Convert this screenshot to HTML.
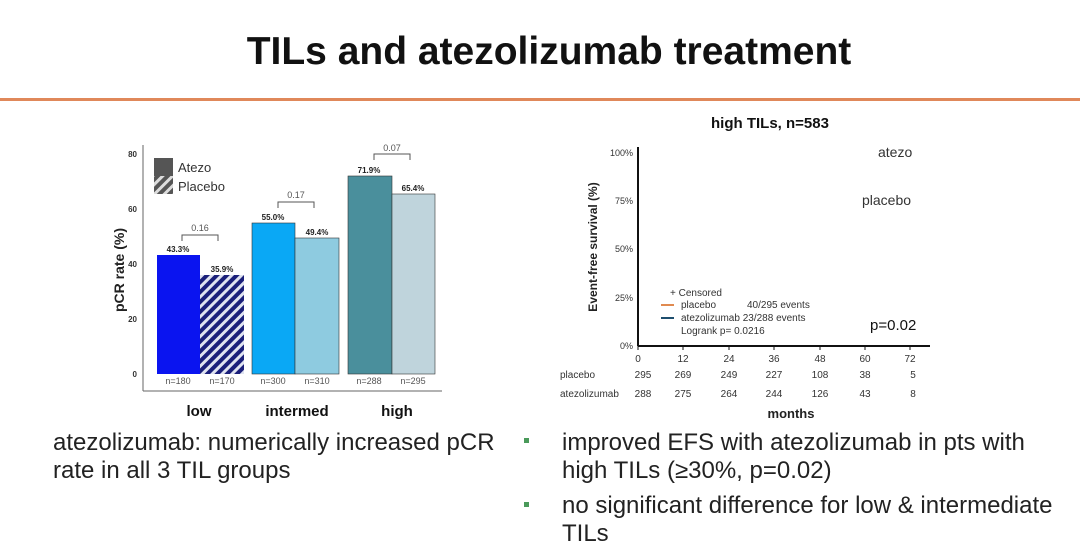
<!DOCTYPE html>
<html><head><meta charset="utf-8"><style>
body{margin:0;width:1080px;height:548px;background:#fff;font-family:"Liberation Sans",sans-serif;position:relative;overflow:hidden}
.a{position:absolute;white-space:nowrap}
</style></head><body>
<div class="a" style="left:0;top:30px;width:1098px;text-align:center;font-size:39px;font-weight:bold;color:#111">TILs and atezolizumab treatment</div>
<div class="a" style="left:0;top:98px;width:1080px;height:3px;background:#e0885a"></div>
<svg class="a" style="left:0;top:0" width="1080" height="548" font-family="Liberation Sans, sans-serif">
<defs><pattern id="h" width="7" height="7" patternUnits="userSpaceOnUse" patternTransform="rotate(45)"><rect width="7" height="7" fill="#1a1f7a"/><rect width="3" height="7" fill="#dfe3f0"/></pattern>
<pattern id="g" width="7" height="7" patternUnits="userSpaceOnUse" patternTransform="rotate(45)"><rect width="7" height="7" fill="#555"/><rect width="3" height="7" fill="#ddd"/></pattern></defs>
<line x1="143" y1="145" x2="143" y2="391" stroke="#666"/><line x1="143" y1="391" x2="442" y2="391" stroke="#666"/>
<g font-size="8" fill="#333" font-weight="bold" text-anchor="end"><text x="137" y="157">80</text><text x="137" y="212">60</text><text x="137" y="267">40</text><text x="137" y="322">20</text><text x="137" y="377">0</text></g>
<text transform="translate(124,270) rotate(-90)" font-size="14" font-weight="bold" text-anchor="middle" fill="#222">pCR rate (%)</text>
<rect x="154" y="158" width="19" height="18" fill="#555"/><rect x="154" y="176" width="19" height="18" fill="url(#g)"/>
<text x="178" y="172" font-size="13" fill="#333">Atezo</text><text x="178" y="191" font-size="13" fill="#333">Placebo</text>
<rect x="157" y="255" width="43" height="119" fill="#0a14f0"/><rect x="200" y="275" width="44" height="99" fill="url(#h)"/>
<rect x="252" y="223" width="43" height="151" fill="#0aa8f5" stroke="#333" stroke-width=".6"/><rect x="295" y="238" width="44" height="136" fill="#8ecbe0" stroke="#333" stroke-width=".6"/>
<rect x="348" y="176" width="44" height="198" fill="#4a8f9c" stroke="#333" stroke-width=".6"/><rect x="392" y="194" width="43" height="180" fill="#bfd4dc" stroke="#333" stroke-width=".6"/>
<g font-size="8" font-weight="bold" fill="#222" text-anchor="middle"><text x="178" y="252">43.3%</text><text x="222" y="272">35.9%</text><text x="273" y="220">55.0%</text><text x="317" y="235">49.4%</text><text x="369" y="173">71.9%</text><text x="413" y="191">65.4%</text></g>
<g fill="none" stroke="#555"><path d="M182 241V235H218V241"/><path d="M278 208V202H314V208"/><path d="M374 160V154H410V160"/></g>
<g font-size="9" fill="#555" text-anchor="middle"><text x="200" y="231">0.16</text><text x="296" y="198">0.17</text><text x="392" y="151">0.07</text>
<text x="178" y="384">n=180</text><text x="222" y="384">n=170</text><text x="273" y="384">n=300</text><text x="317" y="384">n=310</text><text x="369" y="384">n=288</text><text x="413" y="384">n=295</text></g>
<g font-size="15" font-weight="bold" fill="#111" text-anchor="middle"><text x="199" y="416">low</text><text x="297" y="416">intermed</text><text x="397" y="416">high</text></g>
<text x="770" y="128" font-size="15" font-weight="bold" text-anchor="middle" fill="#111">high TILs, n=583</text>
<line x1="638" y1="147" x2="638" y2="346" stroke="#111" stroke-width="2"/><line x1="638" y1="346" x2="930" y2="346" stroke="#111" stroke-width="2"/>
<g font-size="9" fill="#333" text-anchor="end"><text x="633" y="156">100%</text><text x="633" y="204">75%</text><text x="633" y="252">50%</text><text x="633" y="301">25%</text><text x="633" y="349">0%</text></g>
<g stroke="#111"><path d="M638 346v4M683 346v4M729 346v4M774 346v4M820 346v4M865 346v4M910 346v4"/></g>
<text transform="translate(597,247) rotate(-90)" font-size="12" font-weight="bold" text-anchor="middle" fill="#222">Event-free survival (%)</text>
<text x="878" y="157" font-size="14" fill="#333">atezo</text><text x="862" y="205" font-size="14" fill="#333">placebo</text>
<text x="870" y="330" font-size="15" fill="#111">p=0.02</text>
<g font-size="10" fill="#333"><text x="670" y="296">+ Censored</text><text x="681" y="308">placebo</text><text x="747" y="308">40/295 events</text><text x="681" y="321">atezolizumab  23/288 events</text><text x="681" y="334">Logrank p= 0.0216</text></g>
<line x1="661" y1="305" x2="674" y2="305" stroke="#e08a50" stroke-width="2"/><line x1="661" y1="318" x2="674" y2="318" stroke="#1e4e6e" stroke-width="2"/>
<g font-size="10" fill="#333" text-anchor="middle">
<text x="638" y="362">0</text><text x="683" y="362">12</text><text x="729" y="362">24</text><text x="774" y="362">36</text><text x="820" y="362">48</text><text x="865" y="362">60</text><text x="910" y="362">72</text>
<text x="643" y="378">295</text><text x="683" y="378">269</text><text x="729" y="378">249</text><text x="774" y="378">227</text><text x="820" y="378">108</text><text x="865" y="378">38</text><text x="913" y="378">5</text>
<text x="643" y="397">288</text><text x="683" y="397">275</text><text x="729" y="397">264</text><text x="774" y="397">244</text><text x="820" y="397">126</text><text x="865" y="397">43</text><text x="913" y="397">8</text></g>
<text x="560" y="378" font-size="10" fill="#333">placebo</text><text x="560" y="397" font-size="10" fill="#333">atezolizumab</text>
<text x="791" y="418" font-size="13" font-weight="bold" text-anchor="middle" fill="#222">months</text>
<rect x="524" y="438" width="5" height="5" fill="#4a9a5a"/><rect x="524" y="502" width="5" height="5" fill="#4a9a5a"/>
</svg>
<div class="a" style="left:53px;top:429px;font-size:24px;line-height:28px;color:#222">atezolizumab: numerically increased pCR<br>rate in all 3 TIL groups</div>
<div class="a" style="left:562px;top:429px;font-size:24px;line-height:28px;color:#222">improved EFS with atezolizumab in pts with<br>high TILs (≥30%, p=0.02)</div>
<div class="a" style="left:562px;top:492px;font-size:24px;line-height:28px;color:#222">no significant difference for low &amp; intermediate<br>TILs</div>
</body></html>
